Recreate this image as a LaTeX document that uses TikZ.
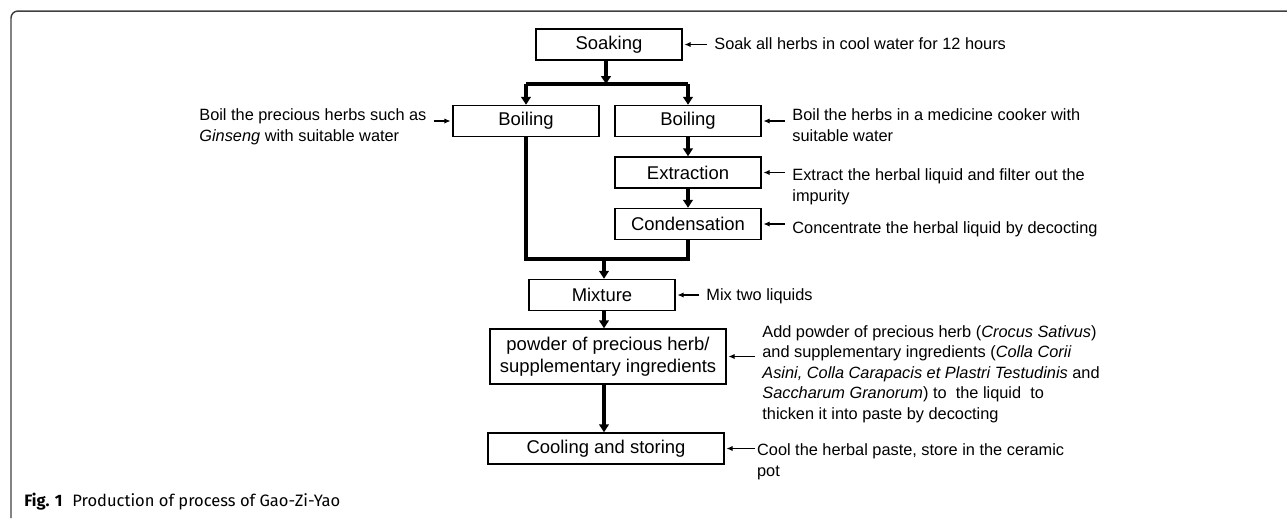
\documentclass[tikz,border=0pt]{standalone}
\usepackage{fontspec}
\setmainfont{Liberation Sans}
\newfontfamily\capfont{Fira Sans}
\usetikzlibrary{arrows.meta,positioning}

\begin{document}
\begin{tikzpicture}
 [x=0.02cm,y=-0.02cm,
  box/.style={draw,line width=0.85pt,minimum width=2.92cm,minimum height=0.62cm,inner sep=1pt,align=center,font=\fontsize{10.5}{12.3}\selectfont},
  widebox/.style={box,minimum width=4.72cm},
  note/.style={anchor=west,align=left,inner xsep=4pt,inner ysep=1pt,font=\fontsize{9.3}{11.7}\selectfont},
  flow/.style={line width=1.9pt,-{Triangle[width=5.5pt,length=4.5pt]}},
  link/.style={line width=1.9pt},
  pointer/.style={line width=0.6pt,shorten >=1pt,-{Latex[length=3.5pt,width=3pt]}}]
 \useasboundingbox (0,0) rectangle (1287,518);
 % frame
 \draw[line width=0.85pt,black!75,rounded corners=4pt] (11,518) -- (11,11) -- (1287,11);

 % process steps
 \node[box] (soak) at (609,44.5) {Soaking};
 \node[box] (boilA) at (526,121) {Boiling};
 \node[box] (boilB) at (688,121) {Boiling};
 \node[box] (extr) at (688,172.5) {Extraction};
 \node[box] (cond) at (688,224) {Condensation};
 \node[box] (mix) at (602,295) {Mixture};
 \node[widebox,minimum height=1.1cm] (powder) at (608,356.5) {powder of precious herb/\\supplementary ingredients};
 \node[widebox] (cool) at (606,448.5) {Cooling and storing};

 \coordinate (split) at (606,84);
 \coordinate (join) at (604,259);

 % connectors
 \draw[flow] (soak.south -| split) -- (split);
 \draw[link] (boilA |- split) -- (boilB |- split);
 \foreach \to in {boilA,boilB}
  \draw[flow] (\to |- split) -- (\to);
 \draw[link] (boilA) -- (boilA |- join) -- (cond |- join) -- (cond);
 \draw[flow] (join) -- (mix.north -| join);
 \foreach \from/\to in {boilB/extr,extr/cond}
  \draw[flow] (\from) -- (\to);
 \foreach \from/\to in {mix/powder,powder/cool}
  \draw[flow] (\from.south -| join) -- (\to.north -| join);

 % notes
 \node[note] (n1) at (707,44) {Soak all herbs in cool water for 12 hours};
 \node[note] (n2) at (192,127) {Boil the precious herbs such as\\\textit{Ginseng} with suitable water};
 \node[note] (n3) at (785,125) {Boil the herbs in a medicine cooker with\\suitable water};
 \node[note] (n4) at (785,187) {Extract the herbal liquid and filter out the\\impurity};
 \node[note] (n5) at (785,229) {Concentrate the herbal liquid by decocting};
 \node[note] (n6) at (699,296) {Mix two liquids};
 \node[note] (n7) at (755,374) {Add powder of precious herb (\textit{Crocus Sativus})\\and supplementary ingredients (\textit{Colla Corii}\\\textit{Asini, Colla Carapacis et Plastri Testudinis} and\\\textit{Saccharum Granorum}) to~ the liquid~ to\\thicken it into paste by decocting};
 \node[note,inner xsep=1pt] (n8) at (755,462) {Cool the herbal paste, store in the ceramic\\pot};

 \foreach \n/\b in {n1/soak,n3/boilB,n4/extr,n5/cond,n6/mix,n7/powder,n8/cool}
  \draw[pointer] (\n.west |- \b.east) -- (\b.east);
 \draw[pointer] (n2.east |- boilA.west) -- (boilA.west);

 % caption
 \node[anchor=west,inner sep=0pt,font=\capfont\fontsize{9.4}{11}\selectfont] (cap) at (24,502)
  {\textbf{Fig. 1}\hspace{0.6em}Production of process of Gao-Zi-Yao};
\end{tikzpicture}
\end{document}
